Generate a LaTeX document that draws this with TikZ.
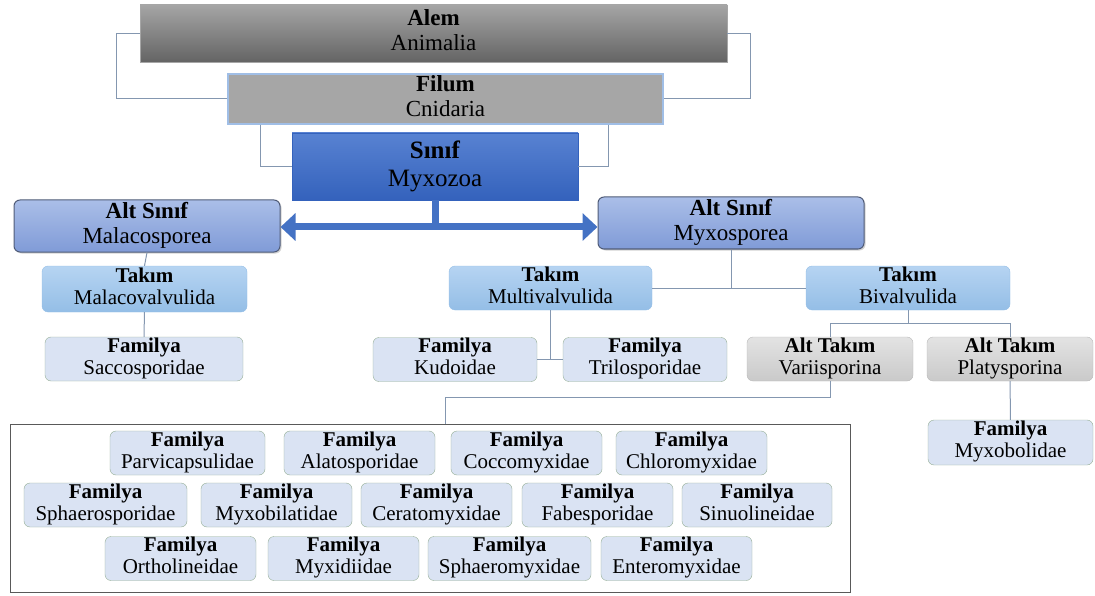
\documentclass[tikz,border=0pt]{standalone}
\usepackage{fontspec}
\setmainfont{Liberation Serif}
\usepackage{xcolor}
\usetikzlibrary{arrows.meta,shadows}
\definecolor{linkgray}{RGB}{132,151,176}
\definecolor{arrowblue}{RGB}{68,114,196}
\definecolor{famborder}{RGB}{150,175,150}
\definecolor{famfill}{RGB}{218,227,243}
\definecolor{alemtop}{RGB}{165,165,165}
\definecolor{alembot}{RGB}{100,100,100}
\definecolor{filumedge}{RGB}{160,190,230}
\definecolor{sinuftop}{RGB}{88,130,210}
\definecolor{sinufbot}{RGB}{52,98,188}
\definecolor{altsinuftop}{RGB}{170,190,232}
\definecolor{altsinufbot}{RGB}{128,155,215}
\definecolor{altsinufedge}{RGB}{80,92,120}
\definecolor{takimtop}{RGB}{182,212,242}
\definecolor{takimbot}{RGB}{148,190,230}
\tikzset{
  basic/.style={draw,align=center,inner sep=0pt,text=black},
  link/.style={draw=linkgray,line width=1pt},
  bigline/.style={draw=arrowblue,line width=7pt},
  bigarrow/.style={bigline,-{Triangle[length=15pt,width=27pt]}}
}
\tikzset{alem/.style={basic,draw=gray!70,top color=alemtop,bottom color=alembot,
                      font=\fontsize{23}{25}\selectfont}}
\tikzset{filum/.style={basic,draw=filumedge,line width=1.5pt,fill=gray!70,
                       font=\fontsize{23}{25}\selectfont}}
\tikzset{sinif/.style={basic,draw=sinufbot,top color=sinuftop,bottom color=sinufbot,
                       font=\fontsize{25}{28}\selectfont}}
\tikzset{altsinif/.style={basic,rounded corners=6pt,draw=altsinufedge,line width=1pt,
                          top color=altsinuftop,bottom color=altsinufbot,
                          drop shadow={opacity=0.35,shadow xshift=1.5pt,shadow yshift=-1.5pt},
                          minimum width=266,minimum height=52,font=\fontsize{23}{25}\selectfont}}
\tikzset{takim/.style={basic,rounded corners=6pt,draw=takimbot,top color=takimtop,
                       bottom color=takimbot,minimum height=44,
                       font=\fontsize{21}{22}\selectfont}}
\tikzset{familya/.style={basic,rounded corners=6pt,draw=famborder,fill=famfill,
                         minimum height=43,font=\fontsize{21}{22}\selectfont}}
\tikzset{alttakim/.style={basic,rounded corners=6pt,draw=gray!55,top color=gray!22,
                          bottom color=gray!42,minimum width=166,minimum height=44,
                          font=\fontsize{21}{22}\selectfont}}
\tikzset{grup/.style={draw=gray!70!black,line width=1pt,fill=white}}
\newcommand{\twoline}[2]{\textbf{#1}\strut\\#2\strut}

\begin{document}
\begin{tikzpicture}[x=1pt,y=-1pt]
  \useasboundingbox (0,0) rectangle (1095,596);

  % Draw top levels
  \node[alem,minimum width=587,minimum height=57] (alem) at (433.5,33.5) {\twoline{Alem}{Animalia}};
  \node[filum,minimum width=435,minimum height=50] (filum) at (445.5,99) {\twoline{Filum}{Cnidaria}};
  \node[sinif,minimum width=286,minimum height=67] (sinif) at (435,166.5) {\twoline{Sınıf}{Myxozoa}};
  % Brackets between top levels
  \draw[link] (alem.west) -- ++(-23,0) |- (filum.west);
  \draw[link] (alem.east) -- ++(23,0) |- (filum.east);
  \draw[link] ([xshift=33pt]filum.south west) |- (sinif.west);
  \draw[link] ([xshift=-55pt]filum.south east) |- (sinif.east);

  % Draw sub classes
  \node[altsinif] (malaco) at (147,226) {\twoline{Alt Sınıf}{Malacosporea}};
  \node[altsinif] (myxos) at (731,223) {\twoline{Alt Sınıf}{Myxosporea}};
  % Thick arrows from class to sub classes
  \coordinate (hub) at (sinif.south |- 0,227);
  \draw[bigline] (sinif.south) -- (hub);
  \draw[bigarrow] (hub) -- (hub -| malaco.east);
  \draw[bigarrow] (hub) -- (hub -| myxos.west);

  % Draw orders
  \node[takim,minimum width=205,minimum height=46] (malval) at (144.5,289) {\twoline{Takım}{Malacovalvulida}};
  \node[takim,minimum width=203] (multi) at (550.5,288) {\twoline{Takım}{Multivalvulida}};
  \node[takim,minimum width=204] (bival) at (908,288) {\twoline{Takım}{Bivalvulida}};
  \draw[link] (malaco.south) -- (malval.north);
  \draw[link] (myxos.south) -- (myxos.south |- multi.east);
  \draw[link] (multi.east) -- (bival.west);

  % Families and sub orders below the orders
  \node[familya,minimum width=198,minimum height=44] (sacco) at (144,359) {\twoline{Familya}{Saccosporidae}};
  \node[familya,minimum width=164] (kudo) at (455,359.5) {\twoline{Familya}{Kudoidae}};
  \node[familya,minimum width=164] (trilo) at (645,359.5) {\twoline{Familya}{Trilosporidae}};
  \node[alttakim] (varii) at (830,359) {\twoline{Alt Takım}{Variisporina}};
  \node[alttakim] (platy) at (1010,359) {\twoline{Alt Takım}{Platysporina}};
  \draw[link] (malval) -- (sacco);
  \draw[link] (multi.south) -- (multi.south |- kudo.east);
  \draw[link] (kudo.east) -- (trilo.west);
  \draw[link] (bival.south) -- ++(0,13) coordinate (bj);
  \draw[link] (bj) -| (varii.north);
  \draw[link] (bj) -| (platy.north);

  % Family under Platysporina
  \node[familya,minimum width=165,minimum height=45] (myxobol) at (1010.5,442.5) {\twoline{Familya}{Myxobolidae}};
  \draw[link] (platy) -- (myxobol);

  % Box with the families of Variisporina
  \node[grup,minimum width=840,minimum height=168] (grp) at (430,508) {};
  \draw[link] (varii.south) -- ++(0,16) -| ([xshift=15pt]grp.north);
  \foreach \nm/\x/\y/\w [count=\k] in {Parvicapsulidae/187.5/453/155, Alatosporidae/359.5/453/151,
      Coccomyxidae/526.5/453/151, Chloromyxidae/691.5/453/151,
      Sphaerosporidae/105.5/505/163, Myxobilatidae/276.5/505/151, Ceratomyxidae/436.5/505/151,
      Fabesporidae/597.5/505/151, Sinuolineidae/757/505/150,
      Ortholineidae/180.5/558.5/151, Myxidiidae/343.5/558.5/151, Sphaeromyxidae/509.5/558.5/163,
      Enteromyxidae/676.5/558.5/151}{%
    \node[familya,minimum width=\w] (fam\k) at (\x,\y) {\twoline{Familya}{\nm}};
  }
\end{tikzpicture}
\end{document}
